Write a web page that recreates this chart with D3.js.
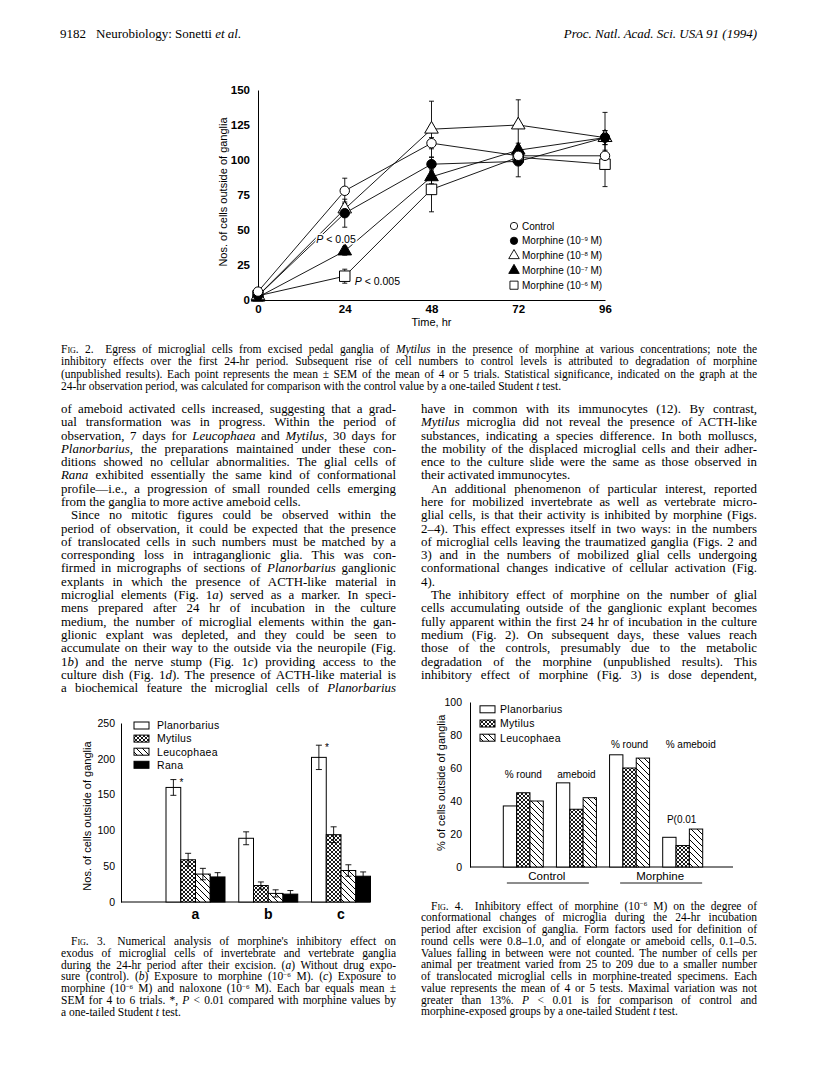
<!DOCTYPE html>
<html>
<head>
<meta charset="utf-8">
<script src="https://cdn.jsdelivr.net/npm/d3@7"></script>
<style>
  body { margin: 0; background: #fff; }
  svg { display: block; }
</style>
</head>
<body>
<script>
// ---------- Fig. 2 data (cells outside of ganglia over time) ----------
const timeHr = [0, 24, 48, 72, 96];
const fig2Names = ["Control", "Morphine (10{−9} M)", "Morphine (10{−8} M)", "Morphine (10{−7} M)", "Morphine (10{−6} M)"];
const control = [6, 78, 112, 103, 103];
const morph9 = [3, 62, 97, 99, 116];
const morph8 = [3, 65, 122, 125, 116];
const morph7 = [2, 35, 88, 107, 116];
const morph6 = [3, 17, 79, 102, 97];
const controlSem = [0, 9, 4, 4, 4];
const morph9Sem = [0, 10, 5, 11, 18];
const morph8Sem = [0, 5, 20, 18, 5];
const morph7Sem = [0, 3, 5, 5, 5];
const morph6Sem = [0, 5, 16, 5, 16];
const fig2YTicks = [0, 25, 50, 75, 100, 125, 150];

// ---------- Fig. 3 data (bars a, b, c) ----------
const fig3Groups = ["a", "b", "c"];
const speciesNames = ["Planorbarius", "Mytilus", "Leucophaea", "Rana"];
const planorbarius = [160, 89, 202];
const mytilus = [59, 23, 94];
const leucophaea = [39, 12, 44];
const rana = [35, 11, 36];
const planorbariusSem = [11, 9, 17];
const mytilusSem = [9, 5, 11];
const leucophaeaSem = [8, 5, 8];
const ranaSem = [6, 5, 6];
const fig3YTicks = [0, 50, 100, 150, 200, 250];

// ---------- Fig. 4 data (% round / % ameboid) ----------
const fig4Groups = ["% round", "ameboid", "% round ", "% ameboid"];
const fig4Treat = ["Control", "Morphine"];
const planorbarius4 = [37, 51, 68, 18];
const mytilus4 = [45, 35, 60, 13];
const leucophaea4 = [40, 42, 66, 23];
const fig4YTicks = [0, 20, 40, 60, 80, 100];

// ---------- page text ----------
const headerLeft = "9182";
const headerMid = "Neurobiology: Sonetti _et al._";
const headerRight = "Proc. Natl. Acad. Sci. USA 91 (1994)";

const fig2Caption = [
  "^Fig. 2.^\u2003Egress of microglial cells from excised pedal ganglia of _Mytilus_ in the presence of morphine at various concentrations; note the",
  "inhibitory effects over the first 24-hr period. Subsequent rise of cell numbers to control levels is attributed to degradation of morphine",
  "(unpublished results). Each point represents the mean ± SEM of the mean of 4 or 5 trials. Statistical significance, indicated on the graph at the",
  "24-hr observation period, was calculated for comparison with the control value by a one-tailed Student _t_ test.|"
];

const leftText = [
  "of ameboid activated cells increased, suggesting that a grad-",
  "ual transformation was in progress. Within the period of",
  "observation, 7 days for _Leucophaea_ and _Mytilus_, 30 days for",
  "_Planorbarius_, the preparations maintained under these con-",
  "ditions showed no cellular abnormalities. The glial cells of",
  "_Rana_ exhibited essentially the same kind of conformational",
  "profile—i.e., a progression of small rounded cells emerging",
  "from the ganglia to more active ameboid cells.|",
  "¶Since no mitotic figures could be observed within the",
  "period of observation, it could be expected that the presence",
  "of translocated cells in such numbers must be matched by a",
  "corresponding loss in intraganglionic glia. This was con-",
  "firmed in micrographs of sections of _Planorbarius_ ganglionic",
  "explants in which the presence of ACTH-like material in",
  "microglial elements (Fig. 1_a_) served as a marker. In speci-",
  "mens prepared after 24 hr of incubation in the culture",
  "medium, the number of microglial elements within the gan-",
  "glionic explant was depleted, and they could be seen to",
  "accumulate on their way to the outside via the neuropile (Fig.",
  "1_b_) and the nerve stump (Fig. 1_c_) providing access to the",
  "culture dish (Fig. 1_d_). The presence of ACTH-like material is",
  "a biochemical feature the microglial cells of _Planorbarius_"
];

const rightText = [
  "have in common with its immunocytes (12). By contrast,",
  "_Mytilus_ microglia did not reveal the presence of ACTH-like",
  "substances, indicating a species difference. In both molluscs,",
  "the mobility of the displaced microglial cells and their adher-",
  "ence to the culture slide were the same as those observed in",
  "their activated immunocytes.|",
  "¶An additional phenomenon of particular interest, reported",
  "here for mobilized invertebrate as well as vertebrate micro-",
  "glial cells, is that their activity is inhibited by morphine (Figs.",
  "2–4). This effect expresses itself in two ways: in the numbers",
  "of microglial cells leaving the traumatized ganglia (Figs. 2 and",
  "3) and in the numbers of mobilized glial cells undergoing",
  "conformational changes indicative of cellular activation (Fig.",
  "4).|",
  "¶The inhibitory effect of morphine on the number of glial",
  "cells accumulating outside of the ganglionic explant becomes",
  "fully apparent within the first 24 hr of incubation in the culture",
  "medium (Fig. 2). On subsequent days, these values reach",
  "those of the controls, presumably due to the metabolic",
  "degradation of the morphine (unpublished results). This",
  "inhibitory effect of morphine (Fig. 3) is dose dependent,"
];

const fig3Caption = [
  "¶^Fig. 3.^\u2003Numerical analysis of morphine's inhibitory effect on",
  "exodus of microglial cells of invertebrate and vertebrate ganglia",
  "during the 24-hr period after their excision. (_a_) Without drug expo-",
  "sure (control). (_b_) Exposure to morphine (10{−6} M). (_c_) Exposure to",
  "morphine (10{−6} M) and naloxone (10{−6} M). Each bar equals mean ±",
  "SEM for 4 to 6 trials. *, _P_ < 0.01 compared with morphine values by",
  "a one-tailed Student _t_ test.|"
];

const fig4Caption = [
  "¶^Fig. 4.^\u2003Inhibitory effect of morphine (10{−6} M) on the degree of",
  "conformational changes of microglia during the 24-hr incubation",
  "period after excision of ganglia. Form factors used for definition of",
  "round cells were 0.8–1.0, and of elongate or ameboid cells, 0.1–0.5.",
  "Values falling in between were not counted. The number of cells per",
  "animal per treatment varied from 25 to 209 due to a smaller number",
  "of translocated microglial cells in morphine-treated specimens. Each",
  "value represents the mean of 4 or 5 tests. Maximal variation was not",
  "greater than 13%. _P_ < 0.01 is for comparison of control and",
  "morphine-exposed groups by a one-tailed Student _t_ test.|"
];

// ---------- page ----------
const svg = d3.select("body").append("svg")
  .attr("width", 816)
  .attr("height", 1078);
svg.append("rect").attr("width", 816).attr("height", 1078).attr("fill", "#fff");

const serif = "'Liberation Serif', 'Times New Roman', serif";
const sans = "'Liberation Sans', Arial, Helvetica, sans-serif";

// patterns for hatched bars
const defs = svg.append("defs");
const xh = defs.append("pattern").attr("id", "xhatch")
  .attr("patternUnits", "userSpaceOnUse").attr("width", 4).attr("height", 4);
xh.append("rect").attr("width", 4).attr("height", 4).attr("fill", "#fff");
xh.append("path").attr("d", "M0,0L4,4M4,0L0,4").attr("stroke", "#000").attr("stroke-width", 0.9);
const dg = defs.append("pattern").attr("id", "diag")
  .attr("patternUnits", "userSpaceOnUse").attr("width", 6).attr("height", 6);
dg.append("rect").attr("width", 6).attr("height", 6).attr("fill", "#fff");
dg.append("path").attr("d", "M0,0L6,6M-1,5L1,7M5,-1L7,1").attr("stroke", "#000").attr("stroke-width", 1);

// rich text line: _italic_, ^small caps^, {superscript}
function richText(g, str, x, y, size, family) {
  const t = g.append("text").attr("x", x).attr("y", y)
    .style("font-size", size + "px").style("font-family", family).attr("fill", "#000");
  let back = 0;
  str.split(/(_[^_]*_|\^[^^]*\^|\{[^}]*\})/).forEach(part => {
    if (!part) return;
    const sp = t.append("tspan");
    if (back) { sp.attr("dy", back); back = 0; }
    if (part[0] === "_") sp.style("font-style", "italic").text(part.slice(1, -1));
    else if (part[0] === "^") sp.style("font-variant", "small-caps").text(part.slice(1, -1));
    else if (part[0] === "{") {
      const up = size * 0.3;
      sp.attr("dy", -up).style("font-size", (size * 0.6) + "px").text(part.slice(1, -1));
      back = up;
    } else sp.text(part);
  });
  return t;
}

// justified block of lines
function textBlock(lines, x0, x1, y0, dy, size, indent) {
  lines.forEach((raw, i) => {
    let s = raw, just = true, ind = 0;
    if (s.endsWith("|")) { just = false; s = s.slice(0, -1); }
    if (s.startsWith("¶")) { ind = indent; s = s.slice(1); }
    const t = richText(svg, s, x0 + ind, y0 + i * dy, size, serif);
    const w = t.node().getComputedTextLength();
    const target = x1 - x0 - ind;
    if (w > target) {
      t.style("letter-spacing", ((target - w) / t.text().length) + "px");
    } else if (just) {
      const n = (s.match(/ /g) || []).length;
      if (n) t.style("word-spacing", ((target - w) / n) + "px");
    }
  });
}

// header
richText(svg, headerLeft, 60, 38, 13, serif);
richText(svg, headerMid, 96, 38, 13, serif);
richText(svg, headerRight, 757, 38, 13, serif)
  .attr("text-anchor", "end").style("font-style", "italic");

// ================= Fig. 2 =================
const x2 = d3.scaleLinear().domain([0, 96]).range([258, 605]);
const y2 = d3.scaleLinear().domain([0, 150]).range([300, 90]);
const f2 = svg.append("g");

f2.append("g").attr("transform", `translate(${x2(0)},0)`)
  .call(d3.axisLeft(y2).tickValues(fig2YTicks).tickSize(0).tickPadding(8))
  .call(g => g.selectAll("text").style("font-family", sans).style("font-size", "11.5px").style("font-weight", "bold"))
  .call(g => g.select(".domain").attr("stroke-width", 1));
f2.append("g").attr("transform", `translate(0,${y2(0)})`)
  .call(d3.axisBottom(x2).tickValues(timeHr).tickSize(0).tickPadding(5))
  .call(g => g.selectAll("text").style("font-family", sans).style("font-size", "11.5px").style("font-weight", "bold"))
  .call(g => g.select(".domain").attr("stroke-width", 1));

f2.append("text").attr("x", x2(48)).attr("y", 326).attr("text-anchor", "middle")
  .style("font-family", sans).style("font-size", "11px").text("Time, hr");
f2.append("text").attr("transform", `translate(227,${y2(75) - 3}) rotate(-90)`)
  .attr("text-anchor", "middle").style("font-family", sans).style("font-size", "11px")
  .text("Nos. of cells outside of ganglia");

const fig2Values = [control, morph9, morph8, morph7, morph6];
const fig2Sem = [controlSem, morph9Sem, morph8Sem, morph7Sem, morph6Sem];
const symType = [d3.symbolCircle, d3.symbolCircle, d3.symbolTriangle, d3.symbolTriangle, d3.symbolSquare];
const symSize = [70, 70, 80, 80, 110];
const symFill = ["#fff", "#000", "#fff", "#000", "#fff"];

const line2 = d3.line().x((d, i) => x2(timeHr[i])).y(d => y2(d));
fig2Values.forEach(vals => {
  f2.append("path").datum(vals).attr("d", line2)
    .attr("fill", "none").attr("stroke", "#000").attr("stroke-width", 0.9);
});
// error bars
fig2Values.forEach((vals, s) => {
  vals.forEach((v, i) => {
    const e = fig2Sem[s][i];
    if (!e) return;
    const cx = x2(timeHr[i]);
    f2.append("path")
      .attr("d", `M${cx},${y2(v - e)}V${y2(v + e)}M${cx - 2.5},${y2(v - e)}H${cx + 2.5}M${cx - 2.5},${y2(v + e)}H${cx + 2.5}`)
      .attr("stroke", "#000").attr("stroke-width", 0.9).attr("fill", "none");
  });
});
// markers (control drawn last so its open circle sits on top at t=0)
[4, 3, 2, 1, 0].forEach(s => {
  f2.selectAll(null).data(fig2Values[s]).join("path")
    .attr("transform", (d, i) => `translate(${x2(timeHr[i])},${y2(d)})`)
    .attr("d", d3.symbol().type(symType[s]).size(symSize[s]))
    .attr("fill", symFill[s]).attr("stroke", "#000").attr("stroke-width", 1);
});

// significance labels
const p05 = richText(f2, "_P_ < 0.05", x2(24) + 11, y2(41), 10.5, sans).attr("text-anchor", "end");
p05.attr("stroke", "#fff").attr("stroke-width", 3).attr("paint-order", "stroke");
richText(f2, "_P_ < 0.005", x2(24) + 10, y2(11), 10.5, sans);

// legend
fig2Names.forEach((name, s) => {
  const ly = 226 + s * 14.8;
  f2.append("path").attr("transform", `translate(514,${ly})`)
    .attr("d", d3.symbol().type(symType[s]).size(symSize[s] * 0.6))
    .attr("fill", symFill[s]).attr("stroke", "#000").attr("stroke-width", 0.9);
  richText(f2, name, 522, ly + 3.5, 10, sans);
});

textBlock(fig2Caption, 61, 757, 353, 12.4, 11.5, 19);

// body text
textBlock(leftText, 61, 396, 413, 13.29, 12.9, 10);
textBlock(rightText, 421, 757, 413, 13.29, 12.9, 10);

// ================= Fig. 3 =================
const f3 = svg.append("g");
const y3 = d3.scaleLinear().domain([0, 250]).range([902, 723]);
const gx3 = d3.scalePoint().domain(fig3Groups).range([195.5, 341]);
const bx3 = d3.scaleBand().domain(speciesNames).range([-29.5, 29.5]);
const fig3Values = [planorbarius, mytilus, leucophaea, rana];
const fig3Sem = [planorbariusSem, mytilusSem, leucophaeaSem, ranaSem];
const fill3 = ["#fff", "url(#xhatch)", "url(#diag)", "#000"];

f3.append("g").attr("transform", "translate(121,0)")
  .call(d3.axisLeft(y3).tickValues(fig3YTicks).tickSize(0).tickPadding(6))
  .call(g => g.selectAll("text").style("font-family", sans).style("font-size", "10.5px"));
f3.append("line").attr("x1", 121).attr("x2", 370).attr("y1", y3(0)).attr("y2", y3(0))
  .attr("stroke", "#000").attr("stroke-width", 1);
f3.append("text").attr("transform", `translate(91,${y3(120)}) rotate(-90)`)
  .attr("text-anchor", "middle").style("font-family", sans).style("font-size", "11px")
  .text("Nos. of cells outside of ganglia");

fig3Values.forEach((vals, s) => {
  f3.selectAll(null).data(vals).join("rect")
    .attr("x", (d, i) => gx3(fig3Groups[i]) + bx3(speciesNames[s]))
    .attr("y", d => y3(d))
    .attr("width", bx3.bandwidth())
    .attr("height", d => y3(0) - y3(d))
    .attr("fill", fill3[s]).attr("stroke", "#000").attr("stroke-width", 1);
  vals.forEach((v, i) => {
    const cx = gx3(fig3Groups[i]) + bx3(speciesNames[s]) + bx3.bandwidth() / 2;
    const e = fig3Sem[s][i];
    f3.append("path")
      .attr("d", `M${cx},${y3(v - e)}V${y3(v + e)}M${cx - 3},${y3(v - e)}H${cx + 3}M${cx - 3},${y3(v + e)}H${cx + 3}`)
      .attr("stroke", "#000").attr("stroke-width", 0.9).attr("fill", "none");
  });
});
// asterisks on Planorbarius a and c
[0, 2].forEach(i => {
  const cx = gx3(fig3Groups[i]) + bx3(speciesNames[0]) + bx3.bandwidth() / 2;
  f3.append("text").attr("x", cx + 6).attr("y", y3(planorbarius[i] + planorbariusSem[i]) + 6)
    .style("font-family", sans).style("font-size", "10px").text("*");
});
f3.selectAll(null).data(fig3Groups).join("text")
  .attr("x", d => gx3(d)).attr("y", 919).attr("text-anchor", "middle")
  .style("font-family", sans).style("font-size", "14px").style("font-weight", "bold")
  .text(d => d);

speciesNames.forEach((name, s) => {
  const ly = 725.5 + s * 13.1;
  f3.append("rect").attr("x", 134).attr("y", ly - 3.5).attr("width", 15).attr("height", 7)
    .attr("fill", fill3[s]).attr("stroke", "#000").attr("stroke-width", 1);
  f3.append("text").attr("x", 157).attr("y", ly + 3.8)
    .style("font-family", sans).style("font-size", "10.5px").style("letter-spacing", "0.3px").text(name);
});

textBlock(fig3Caption, 61, 396, 945, 11.8, 11.5, 10);

// ================= Fig. 4 =================
const f4 = svg.append("g");
const y4 = d3.scaleLinear().domain([0, 100]).range([867, 702]);
const gx4 = d3.scalePoint().domain(fig4Groups).range([523.3, 682.7]);
const bx4 = d3.scaleBand().domain(speciesNames.slice(0, 3)).range([-20, 20]);
const fig4Values = [planorbarius4, mytilus4, leucophaea4];

f4.append("g").attr("transform", "translate(470,0)")
  .call(d3.axisLeft(y4).tickValues(fig4YTicks).tickSize(0).tickPadding(8))
  .call(g => g.selectAll("text").style("font-family", sans).style("font-size", "10.5px"));
f4.append("line").attr("x1", 470).attr("x2", 733).attr("y1", y4(0)).attr("y2", y4(0))
  .attr("stroke", "#000").attr("stroke-width", 1);
f4.append("text").attr("transform", `translate(445,${y4(51)}) rotate(-90)`)
  .attr("text-anchor", "middle").style("font-family", sans).style("font-size", "11px")
  .text("% of cells outside of ganglia");

fig4Values.forEach((vals, s) => {
  f4.selectAll(null).data(vals).join("rect")
    .attr("x", (d, i) => gx4(fig4Groups[i]) + bx4(speciesNames[s]))
    .attr("y", d => y4(d))
    .attr("width", bx4.bandwidth())
    .attr("height", d => y4(0) - y4(d))
    .attr("fill", fill3[s]).attr("stroke", "#000").attr("stroke-width", 1);
});

// group labels
const labelLevel = [56, 56, 74.5, 74.5];
fig4Groups.forEach((g, i) => {
  f4.append("text").attr("x", gx4(g) + (i === 3 ? 8 : 0)).attr("y", y4(labelLevel[i]) + 3.5)
    .attr("text-anchor", "middle").style("font-family", sans).style("font-size", "10px")
    .text(g.trim());
});
f4.append("text").attr("x", gx4(fig4Groups[3]) - 1).attr("y", y4(29) + 3.5)
  .attr("text-anchor", "middle").style("font-family", sans).style("font-size", "10px")
  .text("P(0.01");

fig4Treat.forEach((t, k) => {
  const mid = (gx4(fig4Groups[2 * k]) + gx4(fig4Groups[2 * k + 1])) / 2 + (k === 0 ? -3 : 4);
  f4.append("text").attr("x", mid).attr("y", 880).attr("text-anchor", "middle")
    .style("font-family", sans).style("font-size", "11.5px").text(t);
  f4.append("line").attr("x1", mid - 40).attr("x2", mid + 42).attr("y1", 883).attr("y2", 883)
    .attr("stroke", "#000").attr("stroke-width", 0.9);
});

speciesNames.slice(0, 3).forEach((name, s) => {
  const ly = 709.3 + s * 14.2;
  f4.append("rect").attr("x", 480).attr("y", ly - 3.5).attr("width", 15).attr("height", 7)
    .attr("fill", fill3[s]).attr("stroke", "#000").attr("stroke-width", 1);
  f4.append("text").attr("x", 500).attr("y", ly + 3.8)
    .style("font-family", sans).style("font-size", "10.5px").style("letter-spacing", "0.3px").text(name);
});

textBlock(fig4Caption, 421, 757, 909.5, 11.75, 11.5, 10);
</script>
</body>
</html>
